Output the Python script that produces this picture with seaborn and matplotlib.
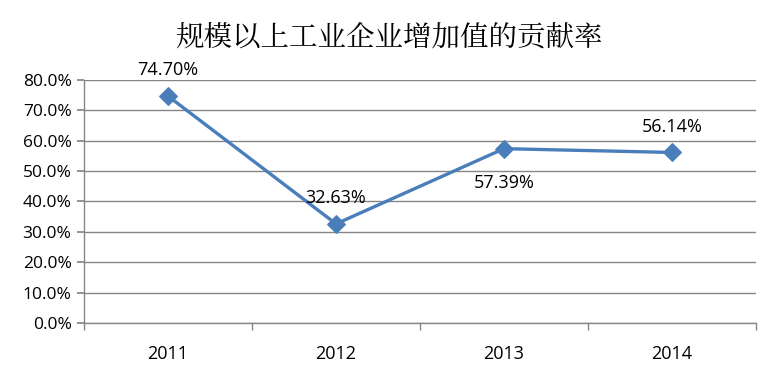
import matplotlib
matplotlib.use("Agg")
import matplotlib.pyplot as plt
import seaborn as sns
import pandas as pd
from matplotlib.ticker import FuncFormatter, FixedLocator

years = ["2011", "2012", "2013", "2014"]
values = [74.70, 32.63, 57.39, 56.14]
labels = ["74.70%", "32.63%", "57.39%", "56.14%"]
label_pos = ["above", "above", "below", "above"]
title = "规模以上工业企业增加值的贡献率"

sns.set_theme(style="white")
plt.rcParams['font.family'] = ['Open Sans', 'DejaVu Sans']

df = pd.DataFrame({"year": years, "value": values})

fig = plt.figure(figsize=(7.78, 3.75), dpi=100)
ax = fig.add_axes([0.108, 0.1387, 0.8637, 0.648])

color = "#4A7EBB"
sns.lineplot(data=df, x="year", y="value", ax=ax, color=color, linewidth=2.4,
             marker="D", markersize=9, markeredgecolor=color, markerfacecolor=color)

ax.set_ylim(0, 80)
ax.set_xlim(-0.5, len(years) - 0.5)
ax.set_yticks(range(0, 81, 10))
ax.yaxis.set_major_formatter(FuncFormatter(lambda v, p: f"{v:.1f}%"))
ax.set_xticks(range(len(years)))
ax.set_xticklabels(years)
ax.xaxis.set_minor_locator(FixedLocator([i - 0.5 for i in range(len(years) + 1)]))

ax.grid(axis="y", color="#868686", linewidth=1)
ax.set_axisbelow(True)
for s in ["top", "right"]:
    ax.spines[s].set_visible(False)
ax.spines["left"].set_color("#868686")
ax.spines["bottom"].set_color("#868686")
ax.spines["left"].set_linewidth(1)
ax.spines["bottom"].set_linewidth(1)

ax.tick_params(axis="y", which="major", left=True, length=5, color="#868686",
               labelsize=12.5, labelcolor="black", pad=4)
ax.tick_params(axis="x", which="major", bottom=False, labelsize=13, labelcolor="black", pad=10)
ax.tick_params(axis="x", which="minor", bottom=True, length=5, color="#868686")
ax.set_xlabel("")
ax.set_ylabel("")

for i, (v, lab, pos) in enumerate(zip(values, labels, label_pos)):
    if pos == "above":
        ax.annotate(lab, (i, v), xytext=(0, 12), textcoords="offset points",
                    ha="center", va="bottom", fontsize=13, color="black")
    else:
        ax.annotate(lab, (i, v), xytext=(0, -18), textcoords="offset points",
                    ha="center", va="top", fontsize=13, color="black")

fig.text(0.5, 0.898, title, ha="center", va="center", fontsize=20.5,
         color="black",
         family=['Noto Serif CJK SC', 'Noto Sans CJK SC', 'DejaVu Sans'])

fig.savefig("out.png", dpi=100)
